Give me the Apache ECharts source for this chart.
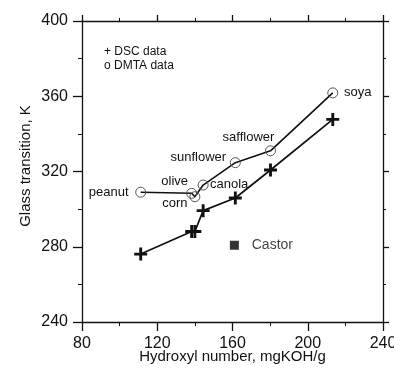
<!DOCTYPE html>
<html>
<head>
<meta charset="utf-8">
<script src="https://cdn.jsdelivr.net/npm/echarts@6/dist/echarts.min.js"></script>
<style>
  html, body { margin: 0; padding: 0; background: #fff; }
  #chart { width: 394px; height: 373px; }
</style>
</head>
<body>
<div id="chart"></div>
<script>
// Oil names, hydroxyl numbers (mgKOH/g) and glass transition temperatures (K)
const oils = ['peanut', 'olive', 'corn', 'canola', 'sunflower', 'safflower', 'soya'];
const hydroxyl = [111.2, 138.3, 140.0, 144.4, 161.5, 180.2, 213.3];
const tgDMTA = [309.0, 308.4, 306.6, 312.8, 324.7, 331.0, 361.8];
const tgDSC = [276.1, 288.1, 288.1, 299.2, 305.9, 320.8, 347.7];
const castorX = [161.0];
const castorY = [280.8];
const castorName = 'Castor';
const xTicks = [80, 120, 160, 200, 240];
const yTicks = [240, 280, 320, 360, 400];

// Where each oil's name sits around its DMTA point
const labelOffsets = {
  peanut: [-32, 0],
  olive: [-17, -12],
  corn: [-20, 7],
  canola: [26, -1],
  sunflower: [-37, -5],
  safflower: [-22, -13],
  soya: [25, 0]
};

const FONT = 'Liberation Sans, Arial, sans-serif';
const INK = '#111';

const plusPath = 'path://M3.9,0H6.1V3.9H10V6.1H6.1V10H3.9V6.1H0V3.9H3.9Z';

const axisCommon = {
  axisLine: { lineStyle: { color: INK, width: 1.3 } },
  splitLine: { show: false }
};

const chart = echarts.init(document.getElementById('chart'), null, { renderer: 'canvas' });

const xMin = xTicks[0], xMax = xTicks[xTicks.length - 1];
const yMin = yTicks[0], yMax = yTicks[yTicks.length - 1];
const xStep = xTicks[1] - xTicks[0];
const yStep = yTicks[1] - yTicks[0];

chart.setOption({
  animation: false,
  backgroundColor: '#fff',
  grid: { left: 82, right: 11, top: 21, bottom: 51, containLabel: false, outerBoundsMode: 'none' },
  xAxis: [
    Object.assign({}, axisCommon, {
      type: 'value', position: 'bottom', min: xMin, max: xMax, interval: xStep,
      name: 'Hydroxyl number, mgKOH/g', nameLocation: 'middle', nameGap: 27,
      nameMoveOverlap: false,
      nameTextStyle: { fontFamily: FONT, fontSize: 15, color: INK },
      axisTick: { inside: false, length: 9, lineStyle: { color: INK, width: 1.3 } },
      minorTick: { show: true, splitNumber: 2, length: 4, lineStyle: { color: INK, width: 1 } },
      axisLabel: { fontFamily: FONT, fontSize: 16, color: INK, margin: 14 }
    }),
    Object.assign({}, axisCommon, {
      type: 'value', position: 'top', min: xMin, max: xMax, interval: xStep,
      axisTick: { inside: false, length: 6, lineStyle: { color: INK, width: 1.3 } },
      minorTick: { show: true, splitNumber: 2, length: 3, lineStyle: { color: INK, width: 1 } },
      axisLabel: { show: false }
    })
  ],
  yAxis: [
    Object.assign({}, axisCommon, {
      type: 'value', position: 'left', min: yMin, max: yMax, interval: yStep,
      name: 'Glass transition, K', nameLocation: 'middle', nameGap: 49,
      nameMoveOverlap: false,
      nameTextStyle: { fontFamily: FONT, fontSize: 15, color: INK, padding: [0, 0, 0, 11] },
      axisTick: { inside: false, length: 9, lineStyle: { color: INK, width: 1.3 } },
      minorTick: { show: true, splitNumber: 2, length: 4, lineStyle: { color: INK, width: 1 } },
      axisLabel: { fontFamily: FONT, fontSize: 16, color: INK, margin: 14 }
    }),
    Object.assign({}, axisCommon, {
      type: 'value', position: 'right', min: yMin, max: yMax, interval: yStep,
      axisTick: { inside: false, length: 6, lineStyle: { color: INK, width: 1.3 } },
      minorTick: { show: true, splitNumber: 2, length: 3, lineStyle: { color: INK, width: 1 } },
      axisLabel: { show: false }
    })
  ],
  graphic: [{
    type: 'text', left: 104, top: 45,
    style: {
      text: '+ DSC data\no DMTA data',
      font: '12px ' + FONT, fill: INK, lineHeight: 13.5
    }
  }],
  series: [
    {
      name: 'DSC', type: 'line', xAxisIndex: 0, yAxisIndex: 0,
      data: hydroxyl.map((x, i) => [x, tgDSC[i]]),
      symbol: plusPath, symbolSize: 13,
      itemStyle: { color: INK },
      lineStyle: { color: INK, width: 1.7 },
      z: 3
    },
    {
      name: 'DMTA', type: 'line', xAxisIndex: 0, yAxisIndex: 0,
      data: hydroxyl.map((x, i) => ({
        value: [x, tgDMTA[i]],
        name: oils[i],
        label: { offset: labelOffsets[oils[i]] }
      })),
      symbol: 'circle', symbolSize: 10, showAllSymbol: true,
      itemStyle: { color: 'rgba(0,0,0,0)', borderColor: '#555', borderWidth: 1 },
      lineStyle: { color: INK, width: 1.6 },
      label: {
        show: true, position: 'inside', align: 'center', verticalAlign: 'middle',
        formatter: p => p.name,
        fontFamily: FONT, fontSize: 13, color: INK
      },
      z: 3
    },
    {
      name: castorName, type: 'scatter', xAxisIndex: 0, yAxisIndex: 0,
      data: castorX.map((x, i) => ({ value: [x, castorY[i]], name: castorName })),
      symbol: 'rect', symbolSize: 9,
      itemStyle: { color: '#000' },
      label: {
        show: true, position: 'inside', align: 'center', verticalAlign: 'middle',
        offset: [38, 0], formatter: p => p.name,
        fontFamily: FONT, fontSize: 14, color: INK
      },
      z: 3
    }
  ]
});
</script>
</body>
</html>
